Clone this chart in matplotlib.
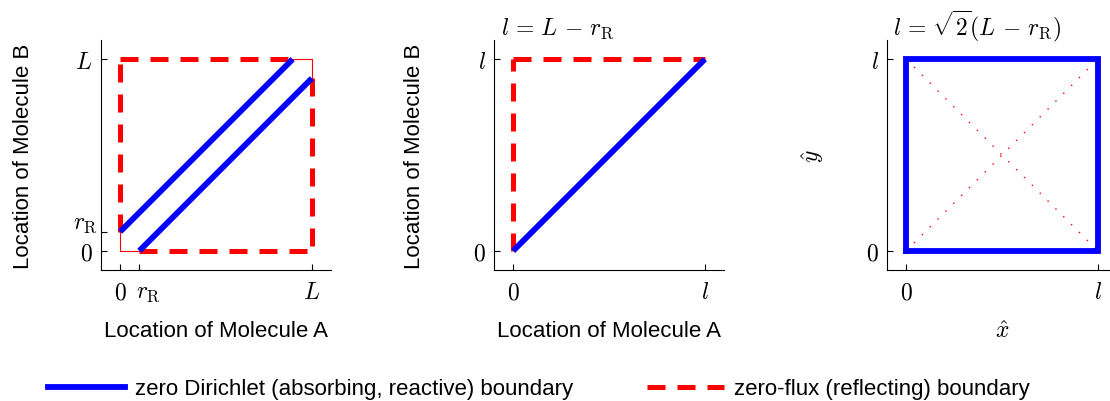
import matplotlib
matplotlib.use("Agg")
import matplotlib.pyplot as plt
from matplotlib.lines import Line2D
from matplotlib.transforms import ScaledTranslation

plt.rcParams['mathtext.fontset'] = 'cm'
plt.rcParams['font.family'] = ['Liberation Sans', 'DejaVu Sans']

# data (domain in units of L; r_R as fraction of L)
L = 1.0
rR = 0.1
l = 1.0

# Panel tick labels
p1_ticks = [0, rR, L]
p1_ticklabels = ['$0$', r'$r_\mathrm{R}$', '$L$']
p2_ticks = [0, l]
p2_ticklabels = ['$0$', '$l$']

blue = '#0000ff'
red = '#ff0000'
FS = 16
MFS = 17
LFS = 16
lw_blue = 4.2
lw_red = 3.6
dash = (3.6, 2.4)

fig = plt.figure(figsize=(11.1, 4.02), dpi=100)
W, H = 1110, 402

def add_ax(left_px, top_px, size_px=230):
    return fig.add_axes([left_px / W, (H - top_px - size_px) / H, size_px / W, size_px / H])

def style(ax, ticks, labels):
    ax.set_xlim(-0.1, 1.1)
    ax.set_ylim(-0.1, 1.1)
    for s in ['top', 'right']:
        ax.spines[s].set_visible(False)
    ax.set_xticks(ticks)
    ax.set_xticklabels(labels)
    ax.set_yticks(ticks)
    ax.set_yticklabels(labels)
    ax.tick_params(direction='in', length=4, width=0.8, labelsize=MFS)
    ax.tick_params(axis='x', pad=8)
    ax.tick_params(axis='y', pad=6)

SP = r'\hspace{0.15}'

# Panel 1
ax1 = add_ax(101, 41)
style(ax1, p1_ticks, p1_ticklabels)
ax1.plot([0, 0, rR], [rR, 0, 0], color=red, lw=0.8)
ax1.plot([L - rR, L, L], [L, L, L - rR], color=red, lw=0.8)
ax1.plot([0, 0], [rR, L], color=red, lw=lw_red, dashes=dash)
ax1.plot([0, L - rR], [L, L], color=red, lw=lw_red, dashes=dash)
ax1.plot([L, L], [L - rR, 0], color=red, lw=lw_red, dashes=dash)
ax1.plot([rR, L], [0, 0], color=red, lw=lw_red, dashes=dash)
ax1.plot([0, L - rR], [rR, L], color=blue, lw=lw_blue, solid_capstyle='butt')
ax1.plot([rR, L], [0, L - rR], color=blue, lw=lw_blue, solid_capstyle='butt')
ax1.set_xlabel('Location of Molecule A', fontsize=FS)
ax1.set_ylabel('Location of Molecule B', fontsize=FS)
ax1.xaxis.set_label_coords(0.5, -0.218)
ax1.yaxis.set_label_coords(-0.29, 0.5)
# r_R tick labels placement like the reference
xl = ax1.get_xticklabels()[1]
xl.set_horizontalalignment('left')
xl.set_transform(xl.get_transform() + ScaledTranslation(-3 / 100, 0, fig.dpi_scale_trans))
yl = ax1.get_yticklabels()[1]
yl.set_verticalalignment('bottom')
yl.set_transform(yl.get_transform() + ScaledTranslation(5 / 100, -2 / 100, fig.dpi_scale_trans))

# Panel 2
ax2 = add_ax(494, 41)
style(ax2, p2_ticks, p2_ticklabels)
ax2.plot([0, 0], [0, l], color=red, lw=lw_red, dashes=dash)
ax2.plot([0, l], [l, l], color=red, lw=lw_red, dashes=dash)
ax2.plot([0, l], [0, l], color=blue, lw=lw_blue, solid_capstyle='butt')
ax2.set_xlabel('Location of Molecule A', fontsize=FS)
ax2.set_ylabel('Location of Molecule B', fontsize=FS)
ax2.xaxis.set_label_coords(0.5, -0.218)
ax2.yaxis.set_label_coords(-0.30, 0.5)
ax2.text(0.03, 1.026, r'$l' + SP + '=' + SP + 'L' + SP + '-' + SP + r'r_\mathrm{R}$',
         transform=ax2.transAxes, ha='left', va='baseline', fontsize=MFS)

# Panel 3
ax3 = add_ax(887, 41)
style(ax3, p2_ticks, p2_ticklabels)
ax3.plot([0, l], [0, l], color=red, lw=1.0, dashes=(1, 7))
ax3.plot([0, l], [l, 0], color=red, lw=1.0, dashes=(1, 7))
ax3.plot([0, l, l, 0, 0], [0, 0, l, l, 0], color=blue, lw=lw_blue,
         solid_joinstyle='miter')
ax3.set_xlabel(r'$\hat{x}$', fontsize=MFS)
ax3.set_ylabel(r'$\hat{y}$', fontsize=MFS)
ax3.xaxis.set_label_coords(0.5, -0.218)
ax3.yaxis.set_label_coords(-0.267, 0.5)
ax3.text(0.025, 1.026, r'$l' + SP + '=' + SP + r'\sqrt{2}(L' + SP + '-' + SP + r'r_\mathrm{R})$',
         transform=ax3.transAxes, ha='left', va='baseline', fontsize=MFS)

handles = [
    Line2D([], [], color=blue, lw=lw_blue),
    Line2D([], [], color=red, lw=lw_red, dashes=dash),
]
fig.legend(handles, ['zero Dirichlet (absorbing, reactive) boundary',
                     'zero-flux (reflecting) boundary'],
           loc='center', bbox_to_anchor=(539 / W, (H - 390) / H), ncol=2,
           frameon=False, fontsize=LFS, handlelength=3.47, handletextpad=0.45,
           columnspacing=3.3, borderpad=0.0)

fig.savefig('out.png', dpi=100)
